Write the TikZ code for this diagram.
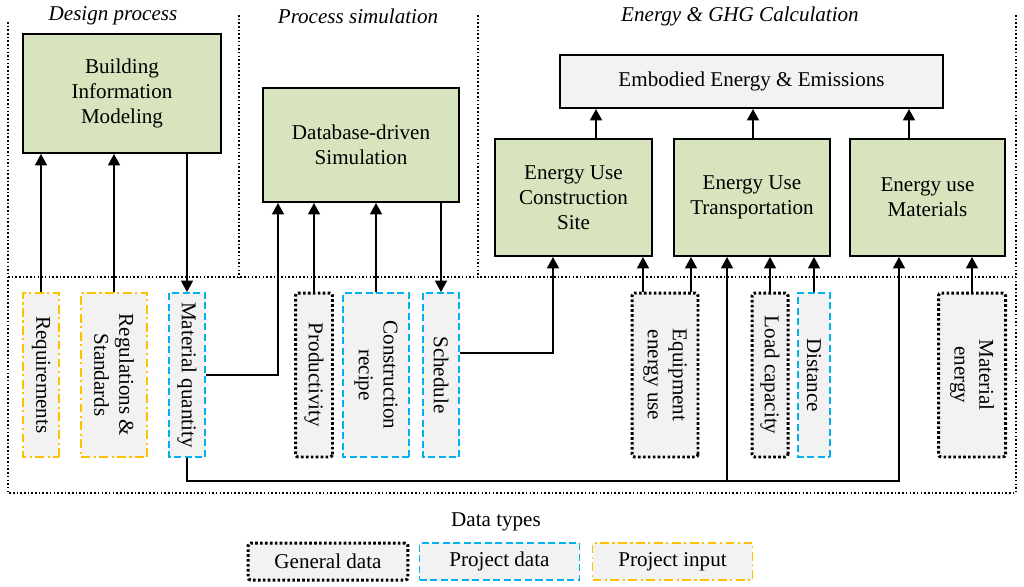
\documentclass[tikz,border=0pt]{standalone}
\usepackage{fontspec}
\setmainfont{Liberation Serif}
\usetikzlibrary{arrows.meta}
\definecolor{boxgreen}{HTML}{D7E4BD}
\definecolor{boxgray}{HTML}{F2F2F2}
\definecolor{projblue}{HTML}{00B0F0}
\definecolor{inputorange}{HTML}{FFC000}
\tikzset{
	greenbox/.style={draw, line width=1.1pt, fill=boxgreen, align=center},
	arr/.style={line width=1pt, -{Triangle[length=6.5pt,width=6.8pt]}},
	frame/.style={line width=0.9pt, dash pattern=on 0.9pt off 1.2pt},
	title/.style={font=\fontsize{12}{14.2}\selectfont\itshape},
	gendata/.style={draw=black, line width=1.7pt, dash pattern=on 1.5pt off 1.3pt, rounded corners=1.5pt, fill=boxgray},
	projdata/.style={draw=projblue, line width=1.1pt, dash pattern=on 4pt off 2pt, fill=boxgray},
	projinput/.style={draw=inputorange, line width=1.1pt, dash pattern=on 5pt off 2pt on 1.2pt off 2pt, fill=boxgray},
	datacol/.style={rotate=-90, minimum width=3.28cm, align=center, inner sep=1pt},
	legend/.style={minimum width=3.2cm, minimum height=0.74cm, inner sep=1pt}
}
\begin{document}
\begin{tikzpicture}[x=0.02cm, y=-0.02cm, font=\fontsize{12}{14.2}\selectfont]
	\useasboundingbox (0,0) rectangle (1024,586);
	
	% regions
	\draw[frame] (8,22) -- (8,493) -- (1016,493) -- (1016,13);
	\draw[frame] (8,277) -- (1016,277);
	\draw[frame] (239,15) -- (239,277);
	\draw[frame] (478,15) -- (478,277);
	\node[title] (tdesign) at (113,16) {Design process};
	\node[title] (tsim) at (358,16) {Process simulation};
	\node[title] (tenergy) at (740,16) {Energy \& GHG Calculation};
	
	% process steps
	\node[greenbox, minimum width=3.96cm, minimum height=2.38cm] (bim) at (122,93.5) {Building\\Information\\Modeling};
	\node[greenbox, minimum width=3.92cm, minimum height=2.28cm] (db) at (361,145) {Database-driven\\Simulation};
	\node[greenbox, fill=boxgray, minimum width=7.66cm, minimum height=1.06cm] (emb) at (751.5,81.5) {Embodied Energy \& Emissions};
	\node[greenbox, minimum width=3.14cm, minimum height=2.34cm] (cs) at (573.5,197.5) {Energy Use\\Construction\\Site};
	\node[greenbox, minimum width=3.12cm, minimum height=2.34cm] (trans) at (752,197.5) {Energy Use\\Transportation};
	\node[greenbox, minimum width=3.10cm, minimum height=2.34cm] (mat) at (927.5,197.5) {Energy use\\Materials};
	
	% data
	\foreach \n/\x/\w/\s/\t in {req/41/0.72/projinput/Requirements, reg/114/1.32/projinput/{Regulations \&\\Standards}, matq/187/0.72/projdata/Material quantity, prod/314/0.74/gendata/Productivity, recipe/376/1.32/projdata/{Construction\\recipe}, sched/441/0.72/projdata/Schedule, equip/665/1.32/gendata/{Equipment\\energy use}, load/770/0.72/gendata/Load capacity, dist/814/0.64/projdata/Distance, menergy/972/1.34/gendata/{Material\\energy}}
	{
		\node[datacol, \s, minimum height=\w cm] (\n) at (\x,375) {\t};
	}
	
	% flows
	\foreach \n/\b in {req/bim, reg/bim, prod/db, recipe/db, load/trans, dist/trans, menergy/mat}
		\draw[arr] (\n.west) -- (\n.west |- \b.south);
	\draw[arr] (matq.west |- bim.south) -- (matq.west);
	\draw[arr] (sched.west |- db.south) -- (sched.west);
	\draw[arr] (matq.north) -| (278,0 |- db.south);
	\draw[arr] ([yshift=0.44cm]sched.north) -| (553,0 |- cs.south);
	\draw[arr] (643,0 |- equip.west) -- (643,0 |- cs.south);
	\draw[arr] (691,0 |- equip.west) -- (691,0 |- trans.south);
	\coordinate (busT) at (727,481);
	\coordinate (busM) at (899,481);
	\draw[arr] (matq.east) |- (busM) -- (busM |- mat.south);
	\draw[arr] (busT) -- (busT |- trans.south);
	\foreach \x/\b in {596/cs, 753/trans, 909/mat}
		\draw[arr] (\x,0 |- \b.north) -- (\x,0 |- emb.south);
	
	% legend
	\node (dtypes) at (496,522) {Data types};
	\node[legend, gendata] (lgen) at (328,561.5) {General data};
	\node[legend, projdata] (lproj) at (499.5,561.5) {Project data};
	\node[legend, projinput] (linput) at (672.5,561.5) {Project input};
\end{tikzpicture}
\end{document}
